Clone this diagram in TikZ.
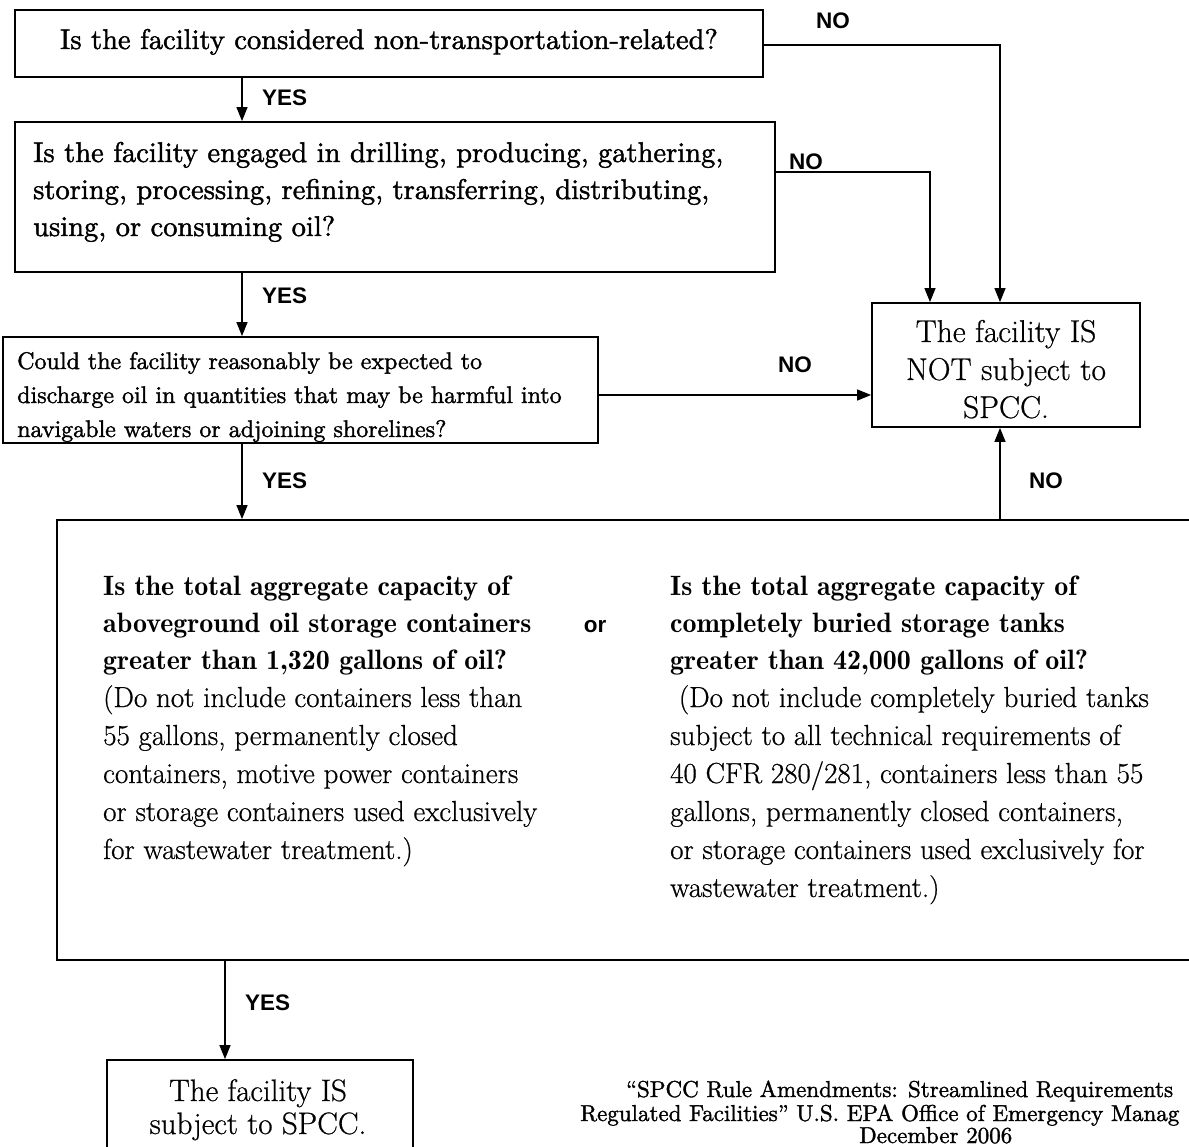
\documentclass[tikz,border=0pt]{standalone}
\usepackage{fontspec}
\usetikzlibrary{arrows.meta}
\newfontfamily\lblfont{Liberation Sans}
\newfontfamily\demifont{lmromandemi10-regular.otf}
\newfontfamily\medfont{lmroman10-regular.otf}[FakeBold=1.5]
\newfontfamily\regfont{lmroman17-regular.otf}[FakeBold=0.6]
\begin{document}
\begin{tikzpicture}[x=1pt,y=-1pt,
  box/.style={draw, line width=1.8pt, inner sep=0pt, minimum width=#1},
  arr/.style={-{Triangle[length=14pt,width=11pt]}, line width=1.3pt},
  lbl/.style={font=\lblfont\bfseries\fontsize{22.5}{22.5}\selectfont, inner sep=0pt},
  mtxt/.style={font=\medfont\fontsize{#1}{37}\selectfont, inner sep=0pt},
  qtxt/.style={font=\demifont\fontsize{#1}{37}\selectfont, inner sep=0pt},
  btxt/.style={font=\regfont\fontsize{#1}{38}\selectfont, inner sep=0pt},
  ctxt/.style={font=\medfont\fontsize{23}{24}\selectfont, inner sep=0pt}
]
\useasboundingbox[fill=white] (0,0) rectangle (1189,1147);

% column/row helper coordinates
\coordinate (c225) at (225,0);
\coordinate (c242) at (242,0);
\coordinate (c930) at (930,0);
\coordinate (c1000) at (1000,0);
\coordinate (r45) at (0,45);
\coordinate (r172) at (0,172);
\coordinate (r395) at (0,395);

% boxes
\node[box=748pt, minimum height=67pt] (box1) at (389,43.5) {};
\node[box=760pt, minimum height=150pt] (box2) at (395,197) {};
\node[box=268pt, minimum height=124pt] (box3) at (1006,365) {};
\node[box=595pt, minimum height=106pt] (box4) at (300.5,390) {};
\node[box=1153pt, minimum height=440pt] (big) at (633.5,740) {};
\node[box=306pt, minimum height=110pt] (box5) at (260,1115) {};

% texts (multi-line nodes: base anchor = last line's baseline)
\node[mtxt=28.5, anchor=base] (t1) at (389,49) {Is the facility considered non-transportation-related?};
\node[mtxt=28.5, anchor=base west, align=left] (t2) at (33,236)
  {Is the facility engaged in drilling, producing, gathering,\\
   storing, processing, refining, transferring, distributing,\\
   using, or consuming oil?};
\node[btxt=31.5, anchor=base, align=center] (t3) at (1006,418)
  {The facility IS\\ NOT subject to\\ SPCC.};
\begin{scope}
  \clip (box4.south west) rectangle (box4.north east);
  \node[font=\medfont\fontsize{24}{34}\selectfont, inner sep=0pt, anchor=base west, align=left] (t4) at (17,437)
    {Could the facility reasonably be expected to\\
     discharge oil in quantities that may be harmful into\\
     navigable waters or adjoining shorelines?};
\end{scope}
\node[qtxt=28, anchor=base west, align=left] (t5a) at (103,669)
  {Is the total aggregate capacity of\\
   aboveground oil storage containers\\
   greater than 1,320 gallons of oil?};
\node[btxt=29, anchor=base west, align=left] (t5b) at (103,859)
  {(Do not include containers less than\\
   55 gallons, permanently closed\\
   containers, motive power containers\\
   or storage containers used exclusively\\
   for wastewater treatment.)};
\node[lbl, anchor=center] (or) at (595,627) {or};
\node[qtxt=28, anchor=base west, align=left] (t6a) at (670,669)
  {Is the total aggregate capacity of\\
   completely buried storage tanks\\
   greater than 42,000 gallons of oil?};
\node[btxt=29, anchor=base west, align=left] (t6b) at (670,897)
  {\hspace*{0.3em}(Do not include completely buried tanks\\
   subject to all technical requirements of\\
   40 CFR 280/281, containers less than 55\\
   gallons, permanently closed containers,\\
   or storage containers used exclusively for\\
   wastewater treatment.)};
\node[font=\regfont\fontsize{31}{33}\selectfont, inner sep=0pt, anchor=base, align=center] (t7) at (258,1134)
  {The facility IS\\ subject to SPCC.};
\node[ctxt, anchor=base west] (cit1) at (626,1097)
  {“SPCC Rule Amendments: Streamlined Requirements};
\node[ctxt, anchor=base west] (cit2) at (580,1121)
  {Regulated Facilities” U.S. EPA Office of Emergency Manag};
\node[ctxt, anchor=base west] (cit3) at (859,1143)
  {December 2006};

% connectors
\draw[arr] (box1.south -| c242) -- (box2.north -| c242);
\node[lbl, anchor=west] (y1) at (262,98) {YES};
\draw[arr] (box1.east |- r45) -- (c1000 |- r45) -- (box3.north -| c1000);
\node[lbl] (n1) at (833,21) {NO};
\draw[arr] (box2.east |- r172) -- (c930 |- r172) -- (box3.north -| c930);
\node[lbl] (n2) at (806,162) {NO};
\draw[arr] (box2.south -| c242) -- (box4.north -| c242);
\node[lbl, anchor=west] (y2) at (262,296) {YES};
\draw[arr] (box4.east |- r395) -- (box3.west |- r395);
\node[lbl] (n3) at (795,365) {NO};
\draw[arr] (box4.south -| c242) -- (big.north -| c242);
\node[lbl, anchor=west] (y3) at (262,481) {YES};
\draw[arr] (big.north -| c1000) -- (box3.south -| c1000);
\node[lbl] (n4) at (1046,481) {NO};
\draw[arr] (big.south -| c225) -- (box5.north -| c225);
\node[lbl, anchor=west] (y4) at (245,1003) {YES};
\end{tikzpicture}
\end{document}
